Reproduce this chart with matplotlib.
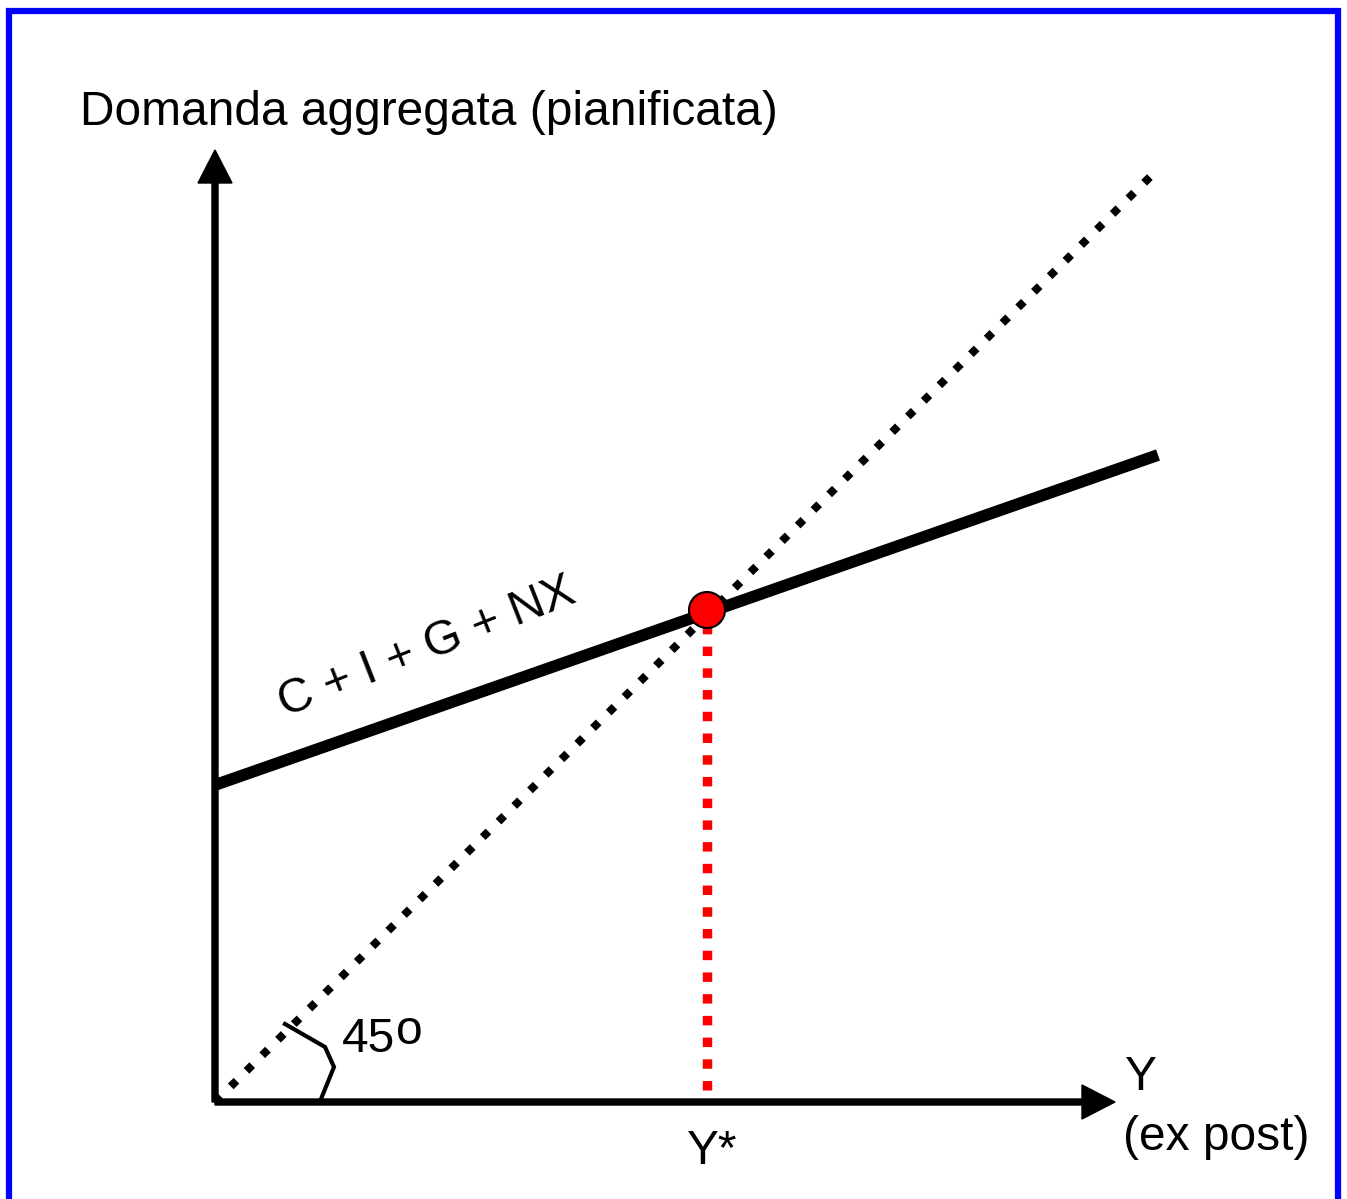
import matplotlib
matplotlib.use('Agg')
import matplotlib.pyplot as plt
from matplotlib.patches import Rectangle, Circle

plt.rcParams['font.family'] = ['Liberation Sans', 'DejaVu Sans']

# dati (unita' arbitrarie, 1 unita' = 100 px)
ad_x = [0, 9.43]          # retta C + I + G + NX
ad_y = [3.17, 6.47]
line45_x = [0, 9.4]       # bisettrice a 45 gradi
line45_y = [0, 9.3]
y_star = 4.92             # equilibrio
y_star_ad = 4.92
angle_x = [0.70, 1.10, 1.19, 1.06]   # segno dell'angolo
angle_y = [0.78, 0.55, 0.35, 0.03]

fig = plt.figure(figsize=(13.47, 11.99), dpi=100)
ax = fig.add_axes([0, 0, 1, 1])
ax.set_xlim(-2.15, 11.32)
ax.set_ylim(-0.97, 11.02)
ax.axis('off')

# cornice blu
ax.add_patch(Rectangle((-2.06, -1.5), 13.29, 12.41, fill=False,
                       edgecolor='#0000ff', linewidth=4.5, zorder=1))

# assi con frecce
ax.arrow(0, 0, 0, 9.52, width=0.06, head_width=0.34, head_length=0.33,
         length_includes_head=True, color='k', zorder=3)
ax.arrow(0, 0, 9.0, 0, width=0.06, head_width=0.34, head_length=0.33,
         length_includes_head=True, color='k', zorder=3)

# bisettrice tratteggiata
ax.plot(line45_x, line45_y, color='k', linewidth=5.8, linestyle=(0, (1, 1.75)),
        dash_capstyle='butt', zorder=2)

# domanda aggregata
ax.plot(ad_x, ad_y, color='k', linewidth=8.5, solid_capstyle='butt', zorder=4)

# linea verticale rossa
ax.plot([y_star, y_star], [0.12, y_star_ad], color='#ff0000', linewidth=6.8,
        linestyle=(0, (1, 1.3)), dash_capstyle='butt', zorder=3)

# punto di equilibrio
ax.add_patch(Circle((y_star, y_star_ad), 0.18, facecolor='#ff0000',
                    edgecolor='k', linewidth=1.5, zorder=5))

# segno angolo
ax.plot(angle_x, angle_y, color='k', linewidth=3, solid_joinstyle='miter', zorder=3)

fs = 34.5
ax.text(-1.35, 9.9, 'Domanda aggregata (pianificata)', fontsize=fs,
        ha='left', va='center')
ax.text(9.1, 0.24, 'Y', fontsize=fs, ha='left', va='center')
ax.text(9.08, -0.35, '(ex post)', fontsize=fs, ha='left', va='center')
ax.text(y_star + 0.05, -0.5, 'Y*', fontsize=fs, ha='center', va='center')
ax.text(1.27, 0.63, '45', fontsize=fs, ha='left', va='center')
ax.text(1.81, 0.71, 'o', fontsize=fs, ha='left', va='center')
ax.text(2.12, 4.54, 'C + I + G + NX', fontsize=fs, ha='center', va='center',
        rotation=21.5)

fig.savefig('out.png', dpi=100)
